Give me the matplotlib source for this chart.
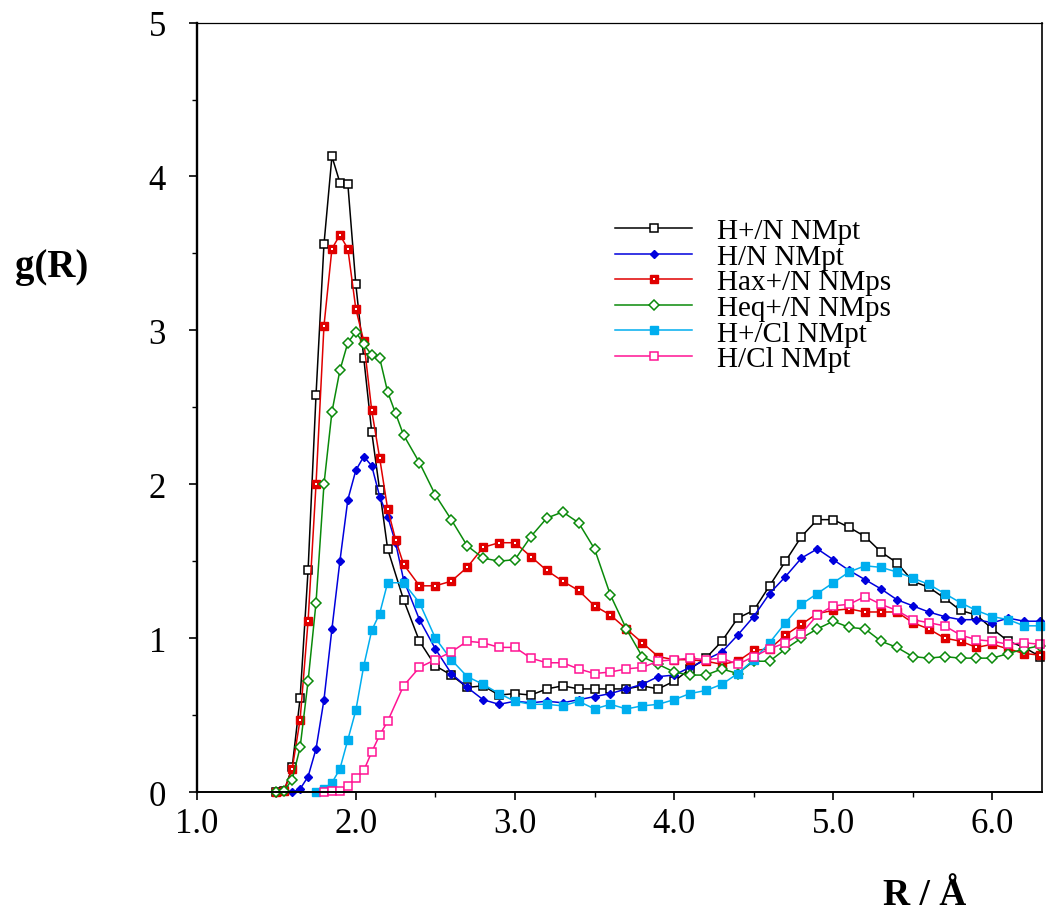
import numpy as np
import matplotlib
matplotlib.use("Agg")
import matplotlib.pyplot as plt
from matplotlib.ticker import MultipleLocator

plt.rcParams["font.family"] = ["Liberation Serif", "DejaVu Serif"]

# ---------------------------------------------------------------
# data (R in Angstrom, g(R))
# ---------------------------------------------------------------
r_peak = [1.50, 1.55, 1.60, 1.65, 1.70, 1.75, 1.80, 1.85,
          1.90, 1.95, 2.00, 2.05, 2.10, 2.15, 2.20]
r_mid = [2.25]
r_tail = [2.30, 2.40, 2.50, 2.60, 2.70, 2.80, 2.90, 3.00, 3.10, 3.20,
          3.30, 3.40, 3.50, 3.60, 3.70, 3.80, 3.90, 4.00, 4.10, 4.20,
          4.30, 4.40, 4.50, 4.60, 4.70, 4.80, 4.90, 5.00, 5.10, 5.20,
          5.30, 5.40, 5.50, 5.60, 5.70, 5.80, 5.90, 6.00, 6.10, 6.20,
          6.30]

r_hp_n = r_peak + r_tail
g_hp_n = [0.00, 0.01, 0.16, 0.61, 1.44, 2.58, 3.56, 4.13, 3.96, 3.95,
          3.30, 2.82, 2.34, 1.96, 1.58,
          1.25, 0.98, 0.82, 0.76, 0.68, 0.69, 0.63, 0.64, 0.63, 0.67,
          0.69, 0.67, 0.67, 0.67, 0.67, 0.69, 0.67, 0.72, 0.80, 0.87,
          0.98, 1.13, 1.18, 1.34, 1.50, 1.66, 1.77, 1.77, 1.72, 1.66,
          1.56, 1.49, 1.37, 1.33, 1.26, 1.18, 1.15, 1.06, 0.98, 0.94,
          0.88]

r_h_n = r_peak[2:] + r_mid + r_tail
g_h_n = [0.00, 0.02, 0.10, 0.28, 0.60, 1.06, 1.50, 1.90, 2.09, 2.18,
         2.12, 1.92, 1.79, 1.62,
         1.38, 1.12, 0.93, 0.77, 0.68, 0.60, 0.57, 0.59, 0.58, 0.59,
         0.58, 0.60, 0.62, 0.64, 0.67, 0.70, 0.75, 0.76, 0.81, 0.86,
         0.91, 1.02, 1.14, 1.29, 1.40, 1.52, 1.58, 1.51, 1.44, 1.38,
         1.32, 1.25, 1.21, 1.17, 1.14, 1.12, 1.12, 1.10, 1.13, 1.11,
         1.11]

r_hax_n = r_peak + r_mid + r_tail
g_hax_n = [0.00, 0.01, 0.15, 0.47, 1.11, 2.00, 3.03, 3.53, 3.62, 3.53,
           3.14, 2.93, 2.48, 2.17, 1.84, 1.64,
           1.48, 1.34, 1.34, 1.37, 1.46, 1.59, 1.62, 1.62, 1.53, 1.44,
           1.37, 1.31, 1.21, 1.15, 1.06, 0.97, 0.88, 0.86, 0.86, 0.85,
           0.83, 0.85, 0.92, 0.93, 1.02, 1.09, 1.16, 1.18, 1.19, 1.17,
           1.17, 1.17, 1.10, 1.06, 1.00, 0.98, 0.94, 0.96, 0.93, 0.90,
           0.89]

r_heq_n = r_peak + r_mid + r_tail
g_heq_n = [0.00, 0.01, 0.08, 0.29, 0.72, 1.23, 2.00, 2.47, 2.74, 2.92,
           2.99, 2.91, 2.84, 2.82, 2.60, 2.46,
           2.32, 2.14, 1.93, 1.77, 1.60, 1.52, 1.50, 1.51, 1.66, 1.78,
           1.82, 1.75, 1.58, 1.28, 1.06, 0.88, 0.83, 0.78, 0.76, 0.76,
           0.80, 0.77, 0.85, 0.85, 0.93, 1.00, 1.06, 1.11, 1.07, 1.06,
           0.98, 0.94, 0.88, 0.87, 0.88, 0.87, 0.87, 0.87, 0.90, 0.93,
           0.95]

r_hp_cl = r_peak[5:] + r_tail
g_hp_cl = [0.00, 0.02, 0.06, 0.15, 0.34, 0.53, 0.82, 1.05, 1.16, 1.36,
           1.36, 1.23, 1.00, 0.86, 0.75, 0.70, 0.64, 0.59, 0.57, 0.57,
           0.56, 0.59, 0.54, 0.57, 0.54, 0.56, 0.57, 0.60, 0.64, 0.66,
           0.70, 0.77, 0.86, 0.97, 1.10, 1.22, 1.29, 1.36, 1.43, 1.47,
           1.46, 1.43, 1.39, 1.35, 1.29, 1.23, 1.18, 1.14, 1.12, 1.08,
           1.08]

r_h_cl = r_peak[6:] + r_tail
g_h_cl = [0.00, 0.01, 0.01, 0.04, 0.09, 0.14, 0.26, 0.37, 0.46,
          0.69, 0.81, 0.86, 0.91, 0.98, 0.97, 0.94, 0.94, 0.87, 0.84,
          0.84, 0.80, 0.77, 0.78, 0.80, 0.81, 0.85, 0.86, 0.87, 0.86,
          0.87, 0.83, 0.88, 0.93, 0.97, 1.03, 1.15, 1.21, 1.22, 1.27,
          1.22, 1.18, 1.12, 1.10, 1.08, 1.02, 0.99, 0.98, 0.96, 0.97,
          0.96]

labels = ["H+/N NMpt", "H/N NMpt", "Hax+/N NMps",
          "Heq+/N NMps", "H+/Cl NMpt", "H/Cl NMpt"]

x_ticks = [1.0, 2.0, 3.0, 4.0, 5.0, 6.0]
x_tick_labels = ["1.0", "2.0", "3.0", "4.0", "5.0", "6.0"]
y_ticks = [0, 1, 2, 3, 4, 5]

# ---------------------------------------------------------------
# figure
# ---------------------------------------------------------------
fig = plt.figure(figsize=(10.5, 9.2), dpi=100)
ax = fig.add_axes([0.1873, 0.1380, 0.8048, 0.8364])

lw = 1.1
k = ax.plot(r_hp_n, g_hp_n, color="black", lw=lw, marker="s", ms=5.8,
            mfc="white", mec="black", mew=1.1, clip_on=False)[0]
b = ax.plot(r_h_n, g_h_n, color="#0000dd", lw=lw, marker="D", ms=4.2,
            mfc="#0000dd", mec="#0000dd", clip_on=False)[0]
r = ax.plot(r_hax_n, g_hax_n, color="#e00000", lw=lw, marker="s", ms=6.0,
            mfc="#e00000", mec="#e00000", clip_on=False)[0]
r_dot = ax.plot(r_hax_n, g_hax_n, ls="none", marker="s", ms=1.6,
                mfc="white", mec="white", mew=0, clip_on=False)[0]
g = ax.plot(r_heq_n, g_heq_n, color="#0a8a0a", lw=lw, marker="D", ms=4.6,
            mfc="white", mec="#0a8a0a", mew=1.1, clip_on=False)[0]
c = ax.plot(r_hp_cl, g_hp_cl, color="#00aeef", lw=lw, marker="s", ms=6.0,
            mfc="#00aeef", mec="#00aeef", clip_on=False)[0]
p = ax.plot(r_h_cl, g_h_cl, color="#ff1493", lw=lw, marker="s", ms=5.8,
            mfc="white", mec="#ff1493", mew=1.1, clip_on=False)[0]

ax.set_xlim(1.0, 6.31)
ax.set_ylim(0, 5)

ax.set_xticks(x_ticks)
ax.set_xticklabels(x_tick_labels)
ax.set_yticks(y_ticks)
ax.xaxis.set_minor_locator(MultipleLocator(0.5))
ax.yaxis.set_minor_locator(MultipleLocator(0.5))

ax.tick_params(which="major", direction="out", length=6, width=1.2,
               labelsize=25, colors="black")
ax.tick_params(which="minor", direction="out", length=3.5, width=1.0)
ax.tick_params(axis="y", which="major", pad=16)
ax.tick_params(axis="x", which="major", pad=5)

ax.spines["left"].set_linewidth(1.7)
ax.spines["bottom"].set_linewidth(1.4)
ax.spines["top"].set_linewidth(0.9)
ax.spines["right"].set_linewidth(1.2)

leg = ax.legend([k, b, (r, r_dot), g, c, p], labels,
                loc="upper left",
                bbox_to_anchor=(615 / 1050, 1 - 219 / 920),
                bbox_transform=fig.transFigure,
                frameon=False, fontsize=21, numpoints=1,
                handlelength=2.65, handletextpad=0.85,
                labelspacing=-0.03, borderpad=0, borderaxespad=0)

fig.text(52 / 1050, 1 - 268 / 920, "g(R)", fontsize=28,
         fontweight="bold", ha="center", va="center")
fig.text(925 / 1050, 1 - 905 / 920, "R / Å", fontsize=27,
         fontweight="bold", ha="center", va="baseline")

fig.savefig("out.png", dpi=100)
